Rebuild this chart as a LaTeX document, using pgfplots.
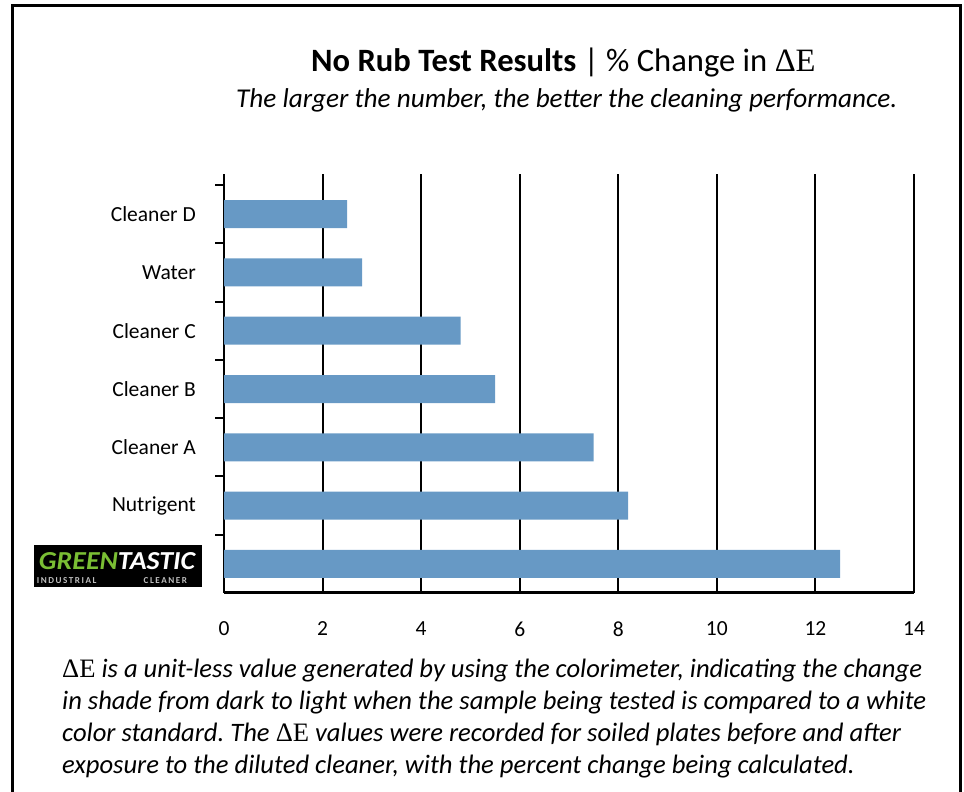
\documentclass[border=0pt]{standalone}
\usepackage{pgfplots}
\pgfplotsset{compat=1.18}
\usepackage{graphicx}
\usepackage{fontspec}
\setmainfont{Carlito}
\newfontfamily\tms{Liberation Serif}
\definecolor{barblue}{RGB}{103,153,197}
\definecolor{logogreen}{RGB}{122,190,52}
\newcommand{\DE}{{\tms\upshape\symbol{"0394}E}}
\frenchspacing
\begin{document}
\begin{tikzpicture}[x=1bp,y=1bp]
\useasboundingbox (0,0) rectangle (964,792);
\draw[line width=3bp] (12,-5) -- (12,786) -- (960,786) -- (960,-5);
\node[anchor=base west, inner sep=0pt] at (311,720) {\fontsize{32.6bp}{36bp}\selectfont\textbf{No Rub Test Results} | \% Change in \DE};
\node[anchor=base west, inner sep=0pt] at (236,684) {\fontsize{27.2bp}{30bp}\selectfont\itshape The larger the number, the better the cleaning performance.};
\begin{axis}[
  at={(224bp,199bp)}, anchor=south west,
  width=690bp, height=419bp, scale only axis,
  xbar, bar width=28bp,
  xmin=0, xmax=14, ymin=-0.5, ymax=6.69,
  axis x line*=bottom, axis y line*=left,
  x axis line style={line width=3bp,-},
  y axis line style={line width=2bp,-},
  xtick={0,2,...,14},
  xmajorgrids, major grid style={black, line width=2bp},
  ytick={0,...,6},
  yticklabels={{}, Nutrigent, Cleaner A, Cleaner B, Cleaner C, Water, Cleaner D},
  minor ytick={0.5,1.5,...,6.5},
  major tick length=0pt, minor tick length=9bp, tick align=outside,
  every tick/.style={black, line width=2bp},
  /pgf/number format/assume math mode=true,
  tick label style={font=\fontsize{21.5bp}{24bp}\selectfont},
  xticklabel style={inner sep=0pt, yshift=-28.5bp},
  yticklabel style={inner sep=0pt, xshift=-28bp},
  clip=false,
]
\addplot[fill=barblue, draw=none] coordinates {
  (12.5,0) (8.2,1) (7.5,2) (5.5,3) (4.8,4) (2.8,5) (2.5,6)};
\end{axis}
\node[fill=black, minimum width=168bp, minimum height=42bp, inner sep=0pt] at (118,226) {};
\node[anchor=base, inner sep=0pt] at (117,222) {\resizebox{156bp}{17bp}{\bfseries\itshape\color{logogreen}GREEN\color{white}TASTIC}};
\node[anchor=base, inner sep=0pt] at (112,208) {\resizebox{150bp}{!}{\fontsize{5bp}{6bp}\selectfont\bfseries\color{white!75!black}I\,N\,D\,U\,S\,T\,R\,I\,A\,L\hspace{26bp}C\,L\,E\,A\,N\,E\,R}};
\begin{scope}[every node/.style={anchor=base west, inner sep=0pt, font=\fontsize{26.6bp}{30bp}\selectfont\itshape}]
\node at (62,114) {\DE{} is a unit-less value generated by using the colorimeter, indicating the change};
\node at (62,82) {in shade from dark to light when the sample being tested is compared to a white};
\node at (62,50) {color standard. The \DE{} values were recorded for soiled plates before and after};
\node at (62,18) {exposure to the diluted cleaner, with the percent change being calculated.};
\end{scope}
\end{tikzpicture}
\end{document}
